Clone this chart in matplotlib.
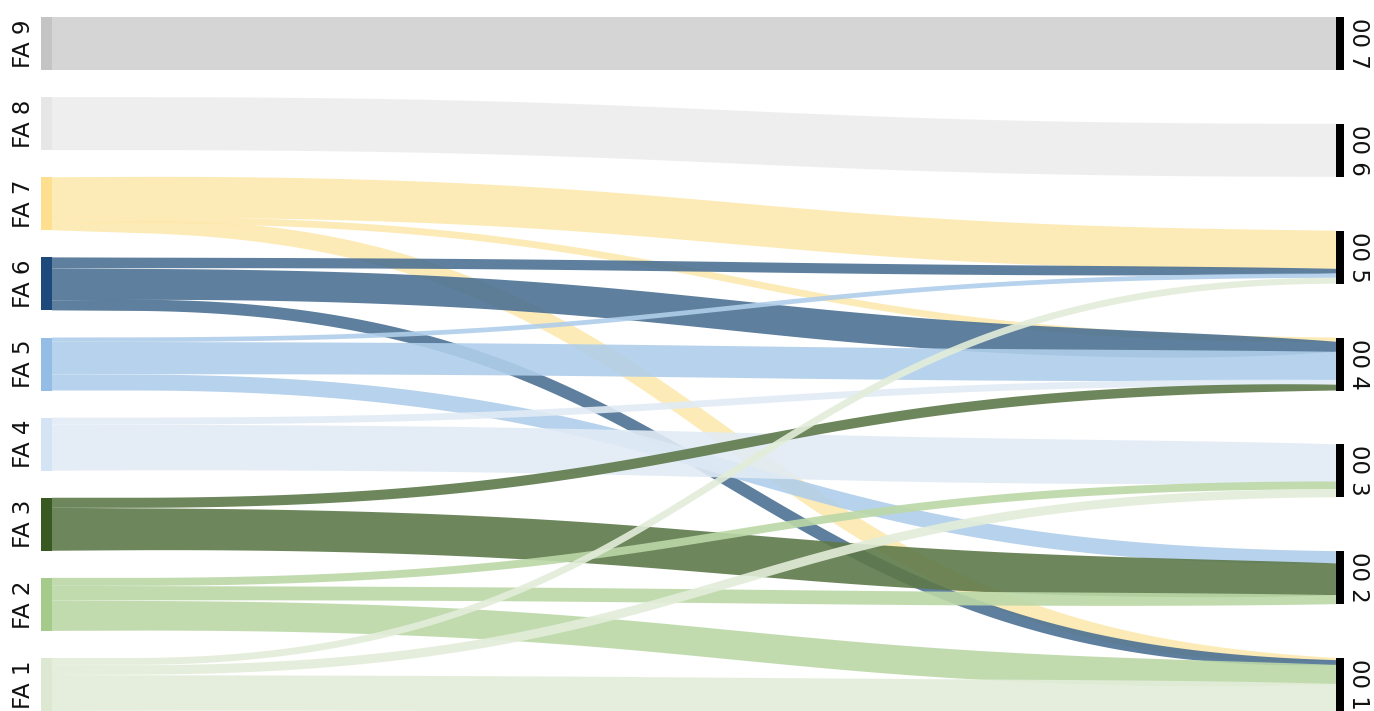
import numpy as np
import matplotlib
matplotlib.use("Agg")
import matplotlib.pyplot as plt
from matplotlib.colors import to_rgb
from matplotlib.patches import Polygon, Rectangle

# nodes
left_nodes = ['FA 9', 'FA 8', 'FA 7', 'FA 6', 'FA 5', 'FA 4', 'FA 3', 'FA 2', 'FA 1']
right_nodes = ['00 7', '00 6', '00 5', '00 4', '00 3', '00 2', '00 1']

# flows: share of the source node (%), share of the target node (%),
# and the flow's own size (% of a node) used for the body of the ribbon
src = ['FA 9', 'FA 8', 'FA 7', 'FA 7', 'FA 7', 'FA 6', 'FA 6', 'FA 6',
       'FA 5', 'FA 5', 'FA 5', 'FA 4', 'FA 4', 'FA 3', 'FA 3',
       'FA 2', 'FA 2', 'FA 2', 'FA 1', 'FA 1', 'FA 1']
dst = ['00 7', '00 6', '00 5', '00 4', '00 1', '00 5', '00 4', '00 1',
       '00 5', '00 4', '00 2', '00 4', '00 3', '00 4', '00 2',
       '00 3', '00 2', '00 1', '00 5', '00 3', '00 1']
src_share = [100, 100, 75, 12, 13, 21, 60, 19,
             8, 62, 30, 13, 87, 19, 81,
             15, 28, 57, 13, 19, 68]
dst_share = [100, 100, 72, 8, 4, 9, 19, 9,
             8, 53, 23, 9, 70, 11, 60,
             15, 17, 36, 11, 15, 51]
flow_size = [100, 100, 78, 13, 34, 19, 57, 23,
             9, 60, 30, 13, 85, 19, 77,
             15, 26, 55, 13, 17, 66]

link_colors = {'FA 9': '#d6d6d6', 'FA 8': '#efefef', 'FA 7': '#fdebb7',
               'FA 6': '#5e7f9e', 'FA 5': '#b8d3ec', 'FA 4': '#e4edf7',
               'FA 3': '#6e865c', 'FA 2': '#c2dcb0', 'FA 1': '#e6efdd'}
node_colors = {'FA 9': '#c4c4c4', 'FA 8': '#e6e6e6', 'FA 7': '#fddf8f',
               'FA 6': '#1d4a7a', 'FA 5': '#94bde6', 'FA 4': '#d5e4f4',
               'FA 3': '#385a22', 'FA 2': '#a4cb8a', 'FA 1': '#dce8d1'}
link_alpha = 0.9

W, H = 1374, 711
x_left, node_w = 41, 11
x_right, bar_w = 1336, 8
lead = 80          # flat run of each ribbon after the source node
node_h = 53
top = 17
span = 694
gap_l = (span - len(left_nodes) * node_h) / (len(left_nodes) - 1)
gap_r = (span - len(right_nodes) * node_h) / (len(right_nodes) - 1)

left_y = {n: top + i * (node_h + gap_l) for i, n in enumerate(left_nodes)}
right_y = {n: top + i * (node_h + gap_r) for i, n in enumerate(right_nodes)}

fig = plt.figure(figsize=(W / 100, H / 100), dpi=100)
ax = fig.add_axes([0, 0, 1, 1])
ax.set_xlim(0, W)
ax.set_ylim(H, 0)
ax.axis('off')


def ribbon(x0, y0, w0, x1, y1, w1, wm, n=300, k=10):
    # centre line as a cubic bezier, width offset perpendicular to it;
    # the body keeps the flow size and is pinched to the stack at each end
    t = np.linspace(0, 1, n)
    xs = x0 + lead
    xm = (xs + x1) / 2
    x = (1-t)**3*xs + 3*(1-t)**2*t*xm + 3*(1-t)*t**2*xm + t**3*x1
    y = (1-t)**3*y0 + 3*(1-t)**2*t*y0 + 3*(1-t)*t**2*y1 + t**3*y1
    dx = 3*(1-t)**2*(xm-xs) + 3*t**2*(x1-xm)
    dy = 6*(1-t)*t*(y1-y0)
    x = np.r_[x0, x]
    y = np.r_[y0, y]
    dx = np.r_[1.0, dx]
    dy = np.r_[0.0, dy]
    u = (x - x0) / (x1 - x0)
    norm = np.hypot(dx, dy)
    nx, ny = -dy / norm, dx / norm
    w = (wm + (w0 - wm) * (1-u)**k + (w1 - wm) * u**k) / 2
    top_e = np.column_stack([x - nx*w, y - ny*w])
    bot_e = np.column_stack([x + nx*w, y + ny*w])
    return np.vstack([top_e, bot_e[::-1]])


def solid(c, a):
    # base colour that shows as c on white at opacity a
    return tuple(np.clip(1 - (1 - np.array(to_rgb(c))) / a, 0, 1))


# stack offsets: at the source ordered by target, at the target ordered by source
order = list(range(len(src)))
src_off = {}
for n in left_nodes:
    y = left_y[n]
    for i in sorted([k for k in order if src[k] == n], key=lambda k: right_nodes.index(dst[k])):
        src_off[i] = y
        y += src_share[i] / 100 * node_h
dst_off = {}
for n in right_nodes:
    y = right_y[n]
    for i in sorted([k for k in order if dst[k] == n], key=lambda k: left_nodes.index(src[k])):
        dst_off[i] = y
        y += dst_share[i] / 100 * node_h

xa, xb = x_left + node_w, x_right
for i in order:
    w0 = src_share[i] / 100 * node_h
    w1 = dst_share[i] / 100 * node_h
    wm = flow_size[i] / 100 * node_h
    pts = ribbon(xa, src_off[i] + w0 / 2, w0, xb, dst_off[i] + w1 / 2, w1, wm)
    ax.add_patch(Polygon(pts, closed=True, facecolor=solid(link_colors[src[i]], link_alpha),
                         edgecolor='none', alpha=link_alpha, zorder=2))

ax.add_patch(Rectangle((xb, 0), W - xb, H, facecolor='white', edgecolor='none', zorder=2.5))
ax.add_patch(Rectangle((0, 0), xa, H, facecolor='white', edgecolor='none', zorder=2.5))

for n in left_nodes:
    ax.add_patch(Rectangle((x_left, left_y[n]), node_w, node_h,
                           facecolor=node_colors[n], edgecolor='none', zorder=3))
    ax.text(23, left_y[n] + node_h / 2, n, rotation=90, ha='center', va='center',
            fontsize=16.5, color='#111111')

for n in right_nodes:
    ax.add_patch(Rectangle((x_right, right_y[n]), bar_w, node_h,
                           facecolor='black', edgecolor='none', zorder=3))
    ax.text(1359, right_y[n] + node_h / 2, n, rotation=-90, ha='center', va='center',
            fontsize=16.5, color='#111111')

fig.savefig('out.png', dpi=100)
